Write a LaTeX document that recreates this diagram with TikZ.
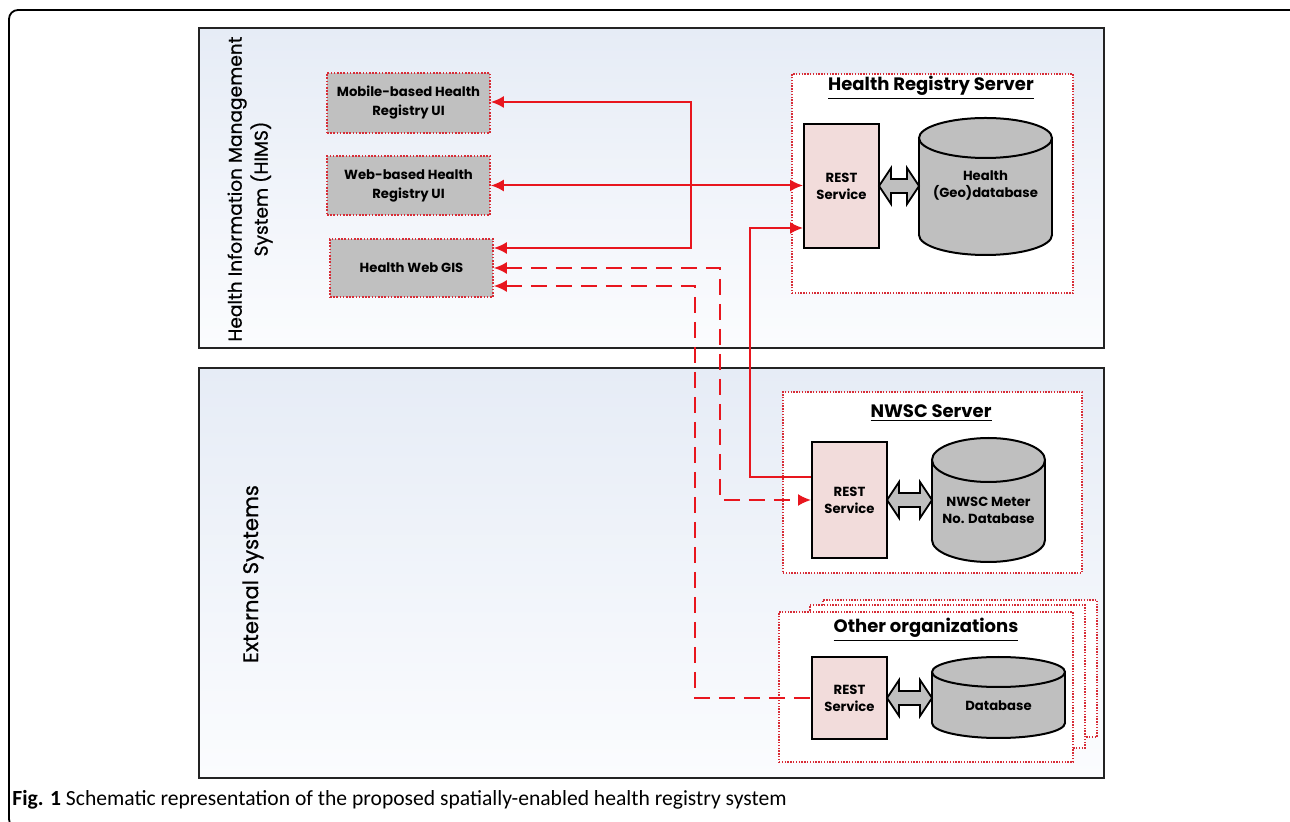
\documentclass[tikz,border=0pt]{standalone}
\usepackage{fontspec}
\setmainfont{Poppins}
\newfontfamily\capfont{Carlito}
\newfontfamily\sidefont{Poppins}[FakeBold=0.6]
\usetikzlibrary{arrows.meta,calc}
\definecolor{lnred}{RGB}{232,22,30}
\definecolor{dotred}{RGB}{215,45,55}
\definecolor{uigray}{RGB}{192,192,192}
\definecolor{restpink}{RGB}{242,220,219}
\definecolor{dbgray}{RGB}{191,191,191}
\definecolor{bgtop}{RGB}{230,236,246}
\definecolor{bgbot}{RGB}{251,252,254}
\def\u{0.5pt}
\tikzset{
  >={Latex[length=6.5pt,width=6pt]},
  panel/.style={draw={rgb,255:red,35;green,35;blue,35}, line width=1.2pt, top color=bgtop, bottom color=bgbot},
  uibox/.style={draw=dotred, fill=uigray, line width=0.8pt, dash pattern=on 0.8pt off 0.8pt, align=center,
    font=\fontsize{6.6}{9.5}\selectfont\bfseries, inner sep=0pt},
  srvbox/.style={draw=dotred, fill=white, line width=0.7pt, dash pattern=on 0.7pt off 0.7pt, inner sep=0pt},
  rest/.style={draw=black, fill=restpink, line width=1pt, align=center, font=\fontsize{6.6}{8.5}\selectfont\bfseries, inner sep=0pt},
  dbtext/.style={align=center, font=\fontsize{6.6}{8.5}\selectfont\bfseries, inner sep=0pt},
  ttl/.style={font=\fontsize{9}{10}\selectfont\bfseries, inner sep=0pt},
  sidelbl/.style={rotate=90, align=center, font=\sidefont\fontsize{9.3}{13}\selectfont, inner sep=0pt},
  conn/.style={draw=lnred, line width=1pt},
  dashconn/.style={conn, dash pattern=on 8pt off 4.5pt},
  blockarrow/.style={draw=black, fill=dbgray, line width=0.9pt, line join=miter},
}
\newcommand\dblarr[3]{% x1 x2 y
  \draw[blockarrow] (#1,#3) -- (#1+12,#3-18) -- (#1+12,#3-7) -- (#2-12,#3-7) -- (#2-12,#3-18) -- (#2,#3)
    -- (#2-12,#3+18) -- (#2-12,#3+7) -- (#1+12,#3+7) -- (#1+12,#3+18) -- cycle;}
\newcommand\dbcyl[5]{% x1 x2 top bottom ry
  \pgfmathsetmacro\cx{(#1+#2)/2}\pgfmathsetmacro\rx{(#2-#1)/2}
  \filldraw[fill=dbgray, draw=black, line width=1pt] (\cx,#4-#5) ellipse ({\rx} and {#5});
  \fill[dbgray] (#1,#3+#5) rectangle (#2,#4-#5);
  \draw[black, line width=1pt] (#1,#3+#5) -- (#1,#4-#5) (#2,#3+#5) -- (#2,#4-#5);
  \filldraw[fill=dbgray, draw=black, line width=1pt] (\cx,#3+#5) ellipse ({\rx} and {#5});}
\begin{document}
\begin{tikzpicture}[x=0.5pt,y=-0.5pt]
\useasboundingbox (0,0) rectangle (1290,822);
\fill[white] (0,0) rectangle (1290,822);
% outer frame
\draw[line width=0.9pt, rounded corners=4.5pt] (9,10) rectangle (1300,828);
% panels
\path[panel] (199,28) rectangle (1104,348);
\path[panel] (199,368) rectangle (1104,778);
\node[sidelbl] (himslbl) at (250,189) {Health Information Management\\System (HIMS)};
\node[sidelbl, font=\sidefont\fontsize{10.6}{12.5}\selectfont] (extlbl) at (253,574) {External Systems};
% UI boxes
\node[uibox, minimum width=163*\u, minimum height=60*\u] (mobile) at (408.5,103) {Mobile-based Health\\Registry UI};
\node[uibox, minimum width=163*\u, minimum height=59*\u] (web) at (408.5,185.5) {Web-based Health\\Registry UI};
\node[uibox, minimum width=163*\u, minimum height=58*\u] (gis) at (411.5,268) {Health Web GIS};
% Health Registry Server
\node[srvbox, minimum width=281*\u, minimum height=219*\u] (hrs) at (932.5,183.5) {};
\node[ttl] (hrst) at (931,88) {\underline{Health Registry Server}};
\node[rest, minimum width=75*\u, minimum height=124*\u] (rest1) at (841.5,186) {REST\\Service};
\dbcyl{919}{1052}{118}{255}{20}
\node[dbtext] (db1) at (985.5,186) {Health\\(Geo)database};
\dblarr{879}{919}{186}
% NWSC server
\node[srvbox, minimum width=299*\u, minimum height=181*\u] (nwsc) at (932.5,482.5) {};
\node[ttl] (nwsct) at (931,413) {\underline{NWSC Server}};
\node[rest, minimum width=75*\u, minimum height=116*\u] (rest2) at (849.5,500) {REST\\Service};
\dbcyl{932}{1045}{438}{562}{22}
\node[dbtext] (db2) at (988.5,510) {NWSC Meter\\No. Database};
\dblarr{887}{932}{500}
% Other organizations
\node[srvbox, minimum width=274*\u, minimum height=137*\u] (oth3) at (960,668.5) {};
\node[srvbox, minimum width=275*\u, minimum height=143*\u] (oth2) at (947.5,676.5) {};
\node[srvbox, minimum width=294*\u, minimum height=150*\u] (oth) at (926,687) {};
\node[ttl] (otht) at (926,630) {\underline{Other organizations}};
\node[rest, minimum width=75*\u, minimum height=82*\u] (rest3) at (849.5,698) {REST\\Service};
\dbcyl{932}{1065}{657}{738}{15}
\node[dbtext] (db3) at (998.5,706) {Database};
\dblarr{887}{932}{698}
% connectors
\coordinate (j1) at (691,102);
\coordinate (j2) at (691,248);
\draw[conn, <->] (mobile.east |- j1) -- (j1) -- (j2) -- (gis.east |- j2);
\draw[conn, <->] (web.east) -- (rest1.west |- web.east);
\coordinate (k1) at (750,228);
\coordinate (k2) at (750,477);
\draw[conn, ->] (rest2.west |- k2) -- (k2) -- (k1) -- (rest1.west |- k1);
\coordinate (d1) at (720,268);
\coordinate (d2) at (720,500);
\draw[dashconn, <->] (gis.east |- d1) -- (d1) -- (d2) -- (rest2.west |- d2);
\coordinate (e1) at (695,286);
\coordinate (e2) at (695,698);
\draw[dashconn, <-] (gis.east |- e1) -- (e1) -- (e2) -- (rest3.west |- e2);
% caption
\node[anchor=west, inner sep=0pt, font=\capfont\fontsize{10.8}{12}\selectfont] (cap) at (12,800)
  {\textbf{Fig. 1} Schematic representation of the proposed spatially-enabled health registry system};
\end{tikzpicture}
\end{document}
